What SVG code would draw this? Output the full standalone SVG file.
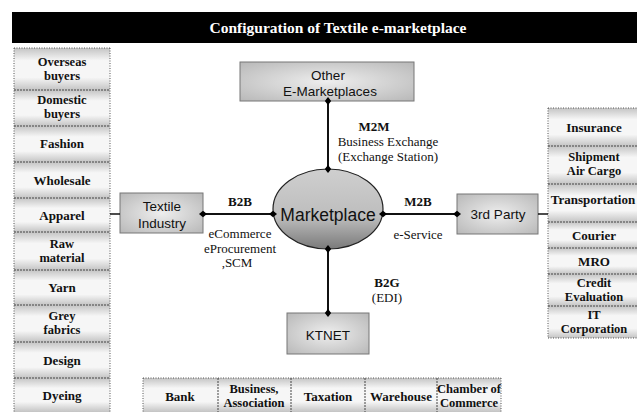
<svg xmlns="http://www.w3.org/2000/svg" width="637" height="412" viewBox="0 0 637 412">
<style>
.col{font-family:"Liberation Serif","Times New Roman",serif;font-weight:bold;font-size:13px;fill:#111;text-anchor:middle}
.col2{font-family:"Liberation Serif","Times New Roman",serif;font-weight:bold;font-size:12.5px;fill:#111;text-anchor:middle}
.box{font-family:"Liberation Sans",Arial,sans-serif;font-size:13.5px;fill:#111;text-anchor:middle}
.lbl{font-family:"Liberation Serif","Times New Roman",serif;font-size:13px;fill:#111;text-anchor:middle}
.lblb{font-family:"Liberation Serif","Times New Roman",serif;font-size:13px;font-weight:bold;fill:#111;text-anchor:middle}
.cellbg{fill:url(#cellg);stroke:none}
.div{stroke:#444;stroke-width:1;stroke-dasharray:2,1;fill:none}
.edge{stroke:#555;stroke-width:1;stroke-dasharray:1,1.5;fill:none}
.nbox{fill:url(#boxg);stroke:#777;stroke-width:1}
.conn{stroke:#111;stroke-width:2;fill:none}
.tick{stroke:#111;stroke-width:1.5;fill:none}
</style>
<defs>
<linearGradient id="cellg" x1="0" y1="0" x2="0" y2="1">
<stop offset="0" stop-color="#c4c4c4"/>
<stop offset="0.3" stop-color="#f6f6f6"/>
<stop offset="0.7" stop-color="#f6f6f6"/>
<stop offset="1" stop-color="#c4c4c4"/>
</linearGradient>
<radialGradient id="boxg" cx="0.5" cy="0.5" r="0.7">
<stop offset="0" stop-color="#eeeeee"/>
<stop offset="1" stop-color="#b8b8b8"/>
</radialGradient>
<linearGradient id="ellg" x1="0" y1="0" x2="0" y2="1">
<stop offset="0" stop-color="#cfcfcf"/>
<stop offset="0.6" stop-color="#bdbdbd"/>
<stop offset="1" stop-color="#7a7a7a"/>
</linearGradient>
<marker id="dia" viewBox="-5 -5 10 10" markerWidth="8" markerHeight="8" refX="0" refY="0" markerUnits="userSpaceOnUse" orient="auto">
<path d="M-5 0 L0 -4 L5 0 L0 4 Z" fill="#000"/>
</marker>
</defs>

<g id="title">
<rect x="12" y="12" width="625" height="31" fill="#000"/>
<text x="338" y="33" font-family="'Liberation Serif','Times New Roman',serif" font-size="15.5" font-weight="bold" fill="#fff" text-anchor="middle">Configuration of Textile e-marketplace</text>
</g>

<g id="left-column">
<rect class="cellbg" x="14" y="48" width="96" height="42"/>
<rect class="cellbg" x="14" y="90" width="96" height="36"/>
<rect class="cellbg" x="14" y="126" width="96" height="36"/>
<rect class="cellbg" x="14" y="162" width="96" height="36"/>
<rect class="cellbg" x="14" y="198" width="96" height="34"/>
<rect class="cellbg" x="14" y="232" width="96" height="38"/>
<rect class="cellbg" x="14" y="270" width="96" height="35"/>
<rect class="cellbg" x="14" y="305" width="96" height="37"/>
<rect class="cellbg" x="14" y="342" width="96" height="36"/>
<rect class="cellbg" x="14" y="378" width="96" height="34"/>
<path class="edge" d="M14 48 V412 M110 48 V412 M14 48 H110"/>
<path class="div" d="M14 90 H110 M14 126 H110 M14 162 H110 M14 198 H110 M14 232 H110 M14 270 H110 M14 305 H110 M14 342 H110 M14 378 H110"/>
<text class="col2" x="62" y="66">Overseas</text>
<text class="col2" x="62" y="80">buyers</text>
<text class="col2" x="62" y="104">Domestic</text>
<text class="col2" x="62" y="118">buyers</text>
<text class="col" x="62" y="148">Fashion</text>
<text class="col" x="62" y="185">Wholesale</text>
<text class="col" x="62" y="220">Apparel</text>
<text class="col2" x="62" y="248">Raw</text>
<text class="col2" x="62" y="262">material</text>
<text class="col" x="62" y="292">Yarn</text>
<text class="col2" x="62" y="320">Grey</text>
<text class="col2" x="62" y="334">fabrics</text>
<text class="col" x="62" y="365">Design</text>
<text class="col" x="62" y="400">Dyeing</text>
</g>

<g id="right-column">
<rect class="cellbg" x="548" y="108" width="89" height="38"/>
<rect class="cellbg" x="548" y="146" width="89" height="38"/>
<rect class="cellbg" x="548" y="184" width="89" height="38"/>
<rect class="cellbg" x="548" y="222" width="89" height="26"/>
<rect class="cellbg" x="548" y="248" width="89" height="26"/>
<rect class="cellbg" x="548" y="274" width="89" height="32"/>
<rect class="cellbg" x="548" y="306" width="89" height="32"/>
<path class="edge" d="M548 108 V338 H637 M548 108 H637"/>
<path class="div" d="M548 146 H637 M548 184 H637 M548 222 H637 M548 248 H637 M548 274 H637 M548 306 H637"/>
<text class="col" x="594" y="132">Insurance</text>
<text class="col2" x="594" y="161">Shipment</text>
<text class="col2" x="594" y="175">Air Cargo</text>
<text class="col" x="593" y="204">Transportation</text>
<text class="col" x="594" y="240">Courier</text>
<text class="col" x="594" y="266">MRO</text>
<text class="col2" x="594" y="287">Credit</text>
<text class="col2" x="594" y="301">Evaluation</text>
<text class="col2" x="594" y="319">IT</text>
<text class="col2" x="594" y="333">Corporation</text>
</g>

<g id="bottom-row">
<rect class="cellbg" x="143" y="378" width="358" height="34"/>
<path class="edge" d="M143 378 V412 M143 378 H501 M501 378 V412"/>
<path class="div" d="M218 378 V412 M291 378 V412 M365 378 V412 M437 378 V412"/>
<text class="col" x="180" y="401">Bank</text>
<text class="col2" x="254" y="393">Business,</text>
<text class="col2" x="254" y="407">Association</text>
<text class="col" x="328" y="401">Taxation</text>
<text class="col" x="401" y="401">Warehouse</text>
<text class="col2" x="469" y="393">Chamber of</text>
<text class="col2" x="469" y="407">Commerce</text>
</g>

<g id="other-emarketplaces">
<rect class="nbox" x="240" y="62" width="174" height="39"/>
<text class="box" x="328" y="80">Other</text>
<text class="box" x="330" y="96">E-Marketplaces</text>
</g>

<g id="textile-industry">
<rect class="nbox" x="120" y="193" width="83" height="40"/>
<text class="box" x="162" y="211">Textile</text>
<text class="box" x="162" y="228">Industry</text>
</g>

<g id="marketplace">
<ellipse cx="328" cy="209" rx="55" ry="40" fill="url(#ellg)" stroke="#222" stroke-width="1.2"/>
<text x="328" y="221" font-family="'Liberation Sans',Arial,sans-serif" font-size="17.5" fill="#111" text-anchor="middle">Marketplace</text>
</g>

<g id="third-party">
<rect class="nbox" x="457" y="194" width="81" height="40"/>
<text class="box" x="498" y="219">3rd Party</text>
</g>

<g id="ktnet">
<rect class="nbox" x="287" y="313" width="82" height="41"/>
<text class="box" x="328" y="340">KTNET</text>
</g>

<g id="connectors">
<line class="conn" x1="328" y1="101" x2="328" y2="169" marker-start="url(#dia)" marker-end="url(#dia)"/>
<line class="conn" x1="203" y1="214" x2="273" y2="214" marker-start="url(#dia)" marker-end="url(#dia)"/>
<line class="conn" x1="383" y1="214" x2="457" y2="214" marker-start="url(#dia)" marker-end="url(#dia)"/>
<line class="conn" x1="328" y1="249" x2="328" y2="313" marker-start="url(#dia)" marker-end="url(#dia)"/>
<line class="tick" x1="110" y1="214" x2="120" y2="214"/>
<line class="tick" x1="538" y1="214" x2="548" y2="214"/>
</g>

<g id="labels">
<text class="lblb" x="374" y="131">M2M</text>
<text class="lbl" x="388" y="146">Business Exchange</text>
<text class="lbl" x="388" y="161">(Exchange Station)</text>
<text class="lblb" x="240" y="206">B2B</text>
<text class="lbl" x="240" y="238">eCommerce</text>
<text class="lbl" x="240" y="253">eProcurement</text>
<text class="lbl" x="237" y="267">,SCM</text>
<text class="lblb" x="418" y="206">M2B</text>
<text class="lbl" x="418" y="239">e-Service</text>
<text class="lblb" x="387" y="287">B2G</text>
<text class="lbl" x="387" y="302">(EDI)</text>
</g>
</svg>
